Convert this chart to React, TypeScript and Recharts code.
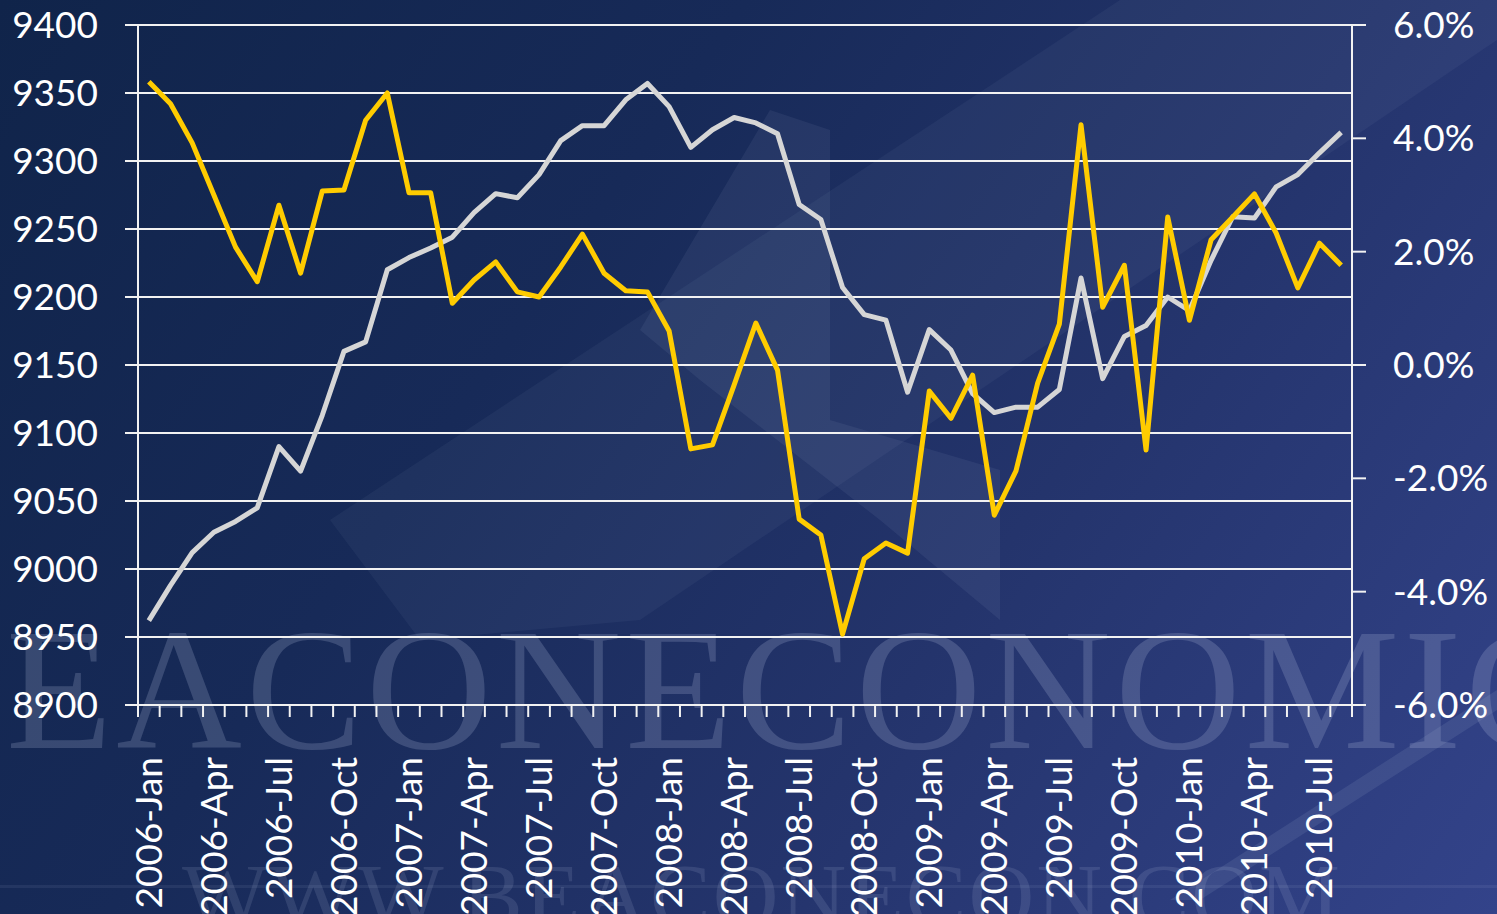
import React from 'react';
import { ComposedChart, Line, XAxis, YAxis, CartesianGrid } from 'recharts';

const YEARS = [2006, 2007, 2008, 2009, 2010];
const MONTH_NAMES = ['Jan', 'Feb', 'Mar', 'Apr', 'May', 'Jun', 'Jul', 'Aug', 'Sep', 'Oct', 'Nov', 'Dec'];
// 2006-Jan .. 2010-Aug
const months = YEARS.flatMap((y) => MONTH_NAMES.map((m) => `${y}-${m}`)).slice(0, 56);

// nonfarm employment, thousands (left axis)
const employment = [
  8962, 8988, 9012, 9027, 9035, 9045, 9090, 9072, 9113, 9160, 9167, 9220,
  9229, 9236, 9244, 9262, 9276, 9273, 9290, 9315, 9326, 9326, 9345, 9357,
  9340, 9310, 9323, 9332, 9328, 9320, 9268, 9257, 9207, 9187, 9183, 9130,
  9176, 9161, 9129, 9115, 9119, 9119, 9132, 9214, 9140, 9171, 9179, 9200,
  9190, 9227, 9259, 9258, 9281, 9290, 9306, 9321,
];

// growth rate, % (right axis)
const growth = [
  5.0, 4.61, 3.92, 3.0, 2.08, 1.47, 2.82, 1.62, 3.07, 3.09, 4.32, 4.8,
  3.04, 3.04, 1.09, 1.5, 1.82, 1.29, 1.2, 1.73, 2.31, 1.62, 1.31, 1.29,
  0.6, -1.48, -1.41, -0.35, 0.74, -0.09, -2.72, -3.0, -4.75, -3.42, -3.14, -3.32,
  -0.46, -0.94, -0.18, -2.65, -1.87, -0.32, 0.72, 4.24, 1.02, 1.76, -1.5, 2.61,
  0.79, 2.21, 2.61, 3.02, 2.33, 1.36, 2.15, 1.76,
];

const leftTicks = [8900, 8950, 9000, 9050, 9100, 9150, 9200, 9250, 9300, 9350, 9400];
const rightTicks = [-6, -4, -2, 0, 2, 4, 6];

const data = months.map((m, i) => ({ month: m, employment: employment[i], growth: growth[i] }));

const W = 1497;
const H = 914;
const LEFT_W = 138;
const RIGHT_W = 145;
const PLOT_W = W - LEFT_W - RIGHT_W;
const FONT = 'Lato, "Open Sans", sans-serif';
const WHITE = '#f2f2f2';

const XTick = (props: any) => {
  const { x, y, payload, index } = props;
  const bw = PLOT_W / months.length;
  return (
    <g>
      <line x1={x - bw / 2} y1={y} x2={x - bw / 2} y2={y + 12} stroke={WHITE} strokeWidth={2} />
      {index === months.length - 1 && (
        <line x1={x + bw / 2} y1={y} x2={x + bw / 2} y2={y + 12} stroke={WHITE} strokeWidth={2} />
      )}
      {index % 3 === 0 && (
        <text
          transform={`translate(${x + 13},${y + 52}) rotate(-90)`}
          textAnchor="end"
          fill="#ffffff"
          fontSize={37}
          fontFamily={FONT}
        >
          {payload.value}
        </text>
      )}
    </g>
  );
};

const Watermark = () => (
  <svg width={W} height={H} style={{ position: 'absolute', left: 0, top: 0 }}>
    <polygon points="330,520 1120,0 1497,0 1497,40 640,620 420,640" fill="#c9d3f0" opacity={0.05} />
    <polygon points="640,330 770,110 830,130 830,420 1000,470 1000,620 880,520 700,380" fill="#c9d3f0" opacity={0.07} />
    <polygon points="1170,900 1497,690 1497,710 1200,900" fill="#c9d3f0" opacity={0.1} />
    <rect x={0} y={885} width={W} height={3} fill="#c9d3f0" opacity={0.08} />
    <text x={-114} y={748} fontFamily='"Liberation Serif", "DejaVu Serif", serif' fontSize={174}
      letterSpacing={4} fill="#c3cdea" opacity={0.2}>
      BEACONECONOMICS
    </text>
    <text x={182} y={927} fontFamily='"Liberation Serif", "DejaVu Serif", serif' fontSize={91}
      letterSpacing={2} fill="#c3cdea" opacity={0.13}>
      WWW.BEACONECON.COM
    </text>
  </svg>
);

export default function App() {
  return (
    <div
      style={{
        position: 'absolute',
        left: 0,
        top: 0,
        width: W,
        height: H,
        overflow: 'hidden',
        background: 'linear-gradient(125deg, #10244a 0%, #172a58 35%, #24346c 65%, #33438a 100%)',
      }}
    >
      <Watermark />
      <div style={{ position: 'absolute', left: 0, top: 0 }}>
        <ComposedChart width={W} height={H} data={data} margin={{ top: 25, right: 0, bottom: 0, left: 0 }}>
          <CartesianGrid yAxisId="l" vertical={false} stroke={WHITE} strokeWidth={2} />
          <XAxis
            dataKey="month"
            scale="band"
            interval={0}
            height={209}
            tickSize={0}
            tickMargin={0}
            tickLine={false}
            axisLine={{ stroke: WHITE, strokeWidth: 2 }}
            tick={<XTick />}
          />
          <YAxis
            yAxisId="l"
            width={LEFT_W}
            domain={[8900, 9400]}
            ticks={leftTicks}
            interval={0}
            tickSize={13}
            tickMargin={27}
            axisLine={{ stroke: WHITE, strokeWidth: 2 }}
            tickLine={{ stroke: WHITE, strokeWidth: 2 }}
            tick={{ fill: '#ffffff', fontSize: 37, fontFamily: FONT }}
          />
          <YAxis
            yAxisId="r"
            orientation="right"
            width={RIGHT_W}
            domain={[-6, 6]}
            ticks={rightTicks}
            interval={0}
            tickSize={14}
            tickMargin={27}
            axisLine={{ stroke: WHITE, strokeWidth: 2 }}
            tickLine={{ stroke: WHITE, strokeWidth: 2 }}
            tick={{ fill: '#ffffff', fontSize: 37, fontFamily: FONT }}
            tickFormatter={(v: number) => `${v.toFixed(1)}%`}
          />
          <Line
            yAxisId="l"
            dataKey="employment"
            type="linear"
            stroke="#d6d6d6"
            strokeWidth={5}
            dot={false}
            strokeLinejoin="round"
            isAnimationActive={false}
          />
          <Line
            yAxisId="r"
            dataKey="growth"
            type="linear"
            stroke="#ffcc00"
            strokeWidth={5}
            dot={false}
            strokeLinejoin="round"
            isAnimationActive={false}
          />
        </ComposedChart>
      </div>
    </div>
  );
}
